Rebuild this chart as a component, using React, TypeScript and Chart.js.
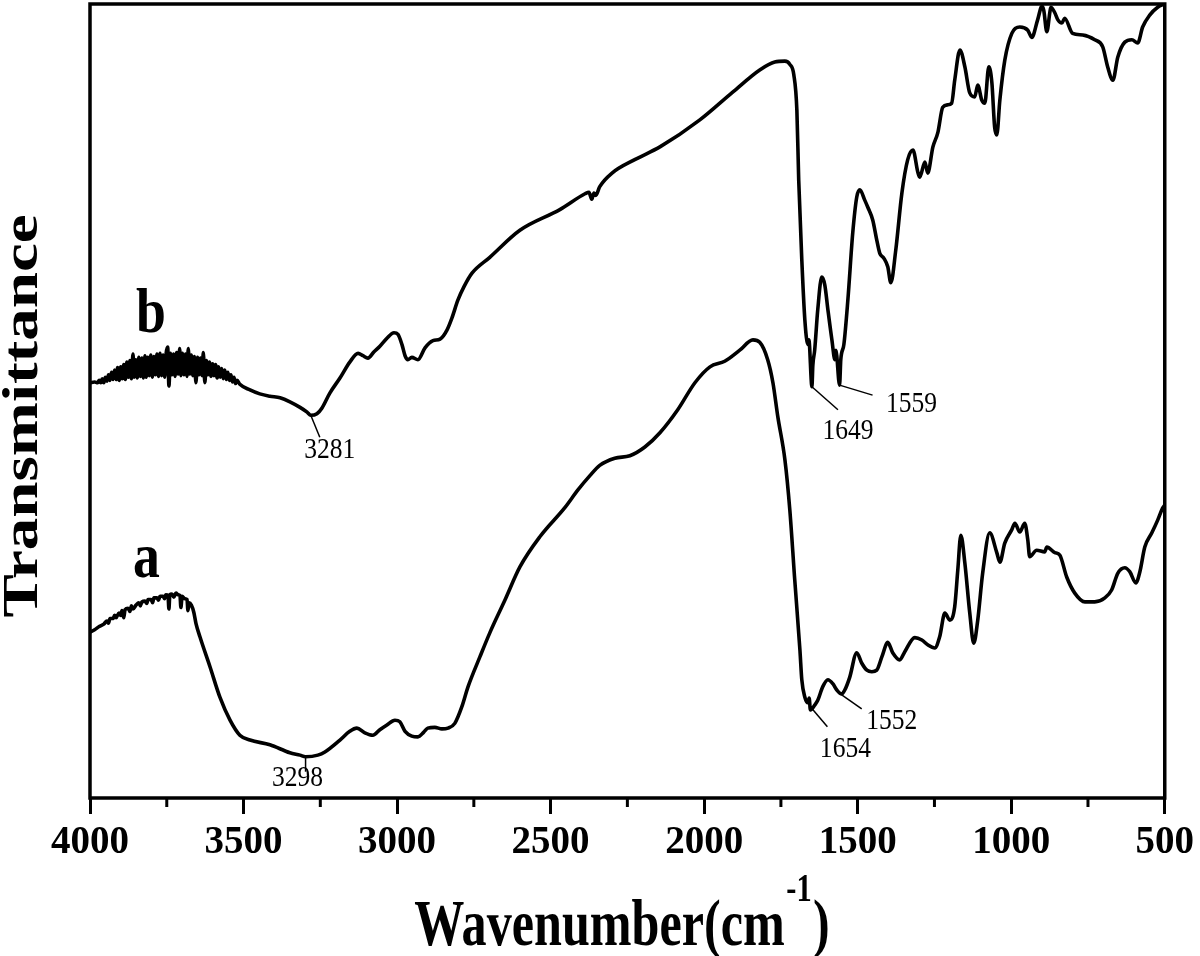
import React, { useEffect, useRef } from "react";
import { Chart, registerables } from "chart.js";

Chart.register(...registerables);

// ---------- data (wavenumber in cm-1, transmittance in arbitrary units 0-100) ----------
const bWavenumber = [
  4000, 3985, 3975, 3970, 3965, 3960, 3955, 3950, 3945, 3940, 3935, 3930, 3925, 3920, 3915, 3910,
  3905, 3900, 3895, 3890, 3885, 3880, 3875, 3870, 3865, 3860, 3856, 3851, 3846, 3841, 3836, 3831,
  3826, 3821, 3817, 3812, 3807, 3802, 3797, 3792, 3787, 3782, 3777, 3772, 3767, 3762, 3757, 3752,
  3747, 3743, 3738, 3733, 3728, 3723, 3718, 3713, 3708, 3704, 3699, 3694, 3689, 3684, 3680, 3675,
  3670, 3665, 3660, 3655, 3650, 3645, 3640, 3635, 3631, 3626, 3621, 3616, 3611, 3606, 3601, 3596,
  3591, 3586, 3581, 3576, 3571, 3566, 3561, 3556, 3551, 3546, 3541, 3536, 3531, 3526, 3521, 3512,
  3479, 3447, 3414, 3381, 3349, 3316, 3293, 3281, 3261, 3245, 3219,
  3186, 3154, 3127, 3111, 3095, 3075, 3056, 3033, 3010, 2997, 2984, 2974, 2965, 2952, 2932, 2909,
  2883, 2860, 2838, 2821, 2802, 2782, 2756, 2698, 2600, 2470, 2388, 2375, 2366, 2359, 2353, 2340,
  2300, 2226, 2144, 2014, 1907, 1819, 1770, 1737, 1721, 1708, 1698, 1692, 1682, 1672, 1662, 1659,
  1649, 1646, 1640, 1630, 1617, 1607, 1597, 1584, 1574, 1571, 1559, 1555, 1545, 1532, 1516, 1503,
  1493, 1477, 1467, 1451, 1438, 1428, 1415, 1402, 1392, 1376, 1356, 1337, 1320, 1304, 1298, 1281,
  1272, 1255, 1239, 1223, 1207, 1194, 1184, 1167, 1151, 1135, 1119, 1109, 1096, 1086, 1073, 1063,
  1054, 1047, 1037, 1021, 998, 972, 946, 933, 914, 900, 894, 884, 874, 871, 858, 848,
  835, 826, 800, 767, 728, 702, 686, 669, 653, 630, 607, 588, 572, 549, 523, 500,
];
const bTransmittance = [
  52.3, 52.4, 52.3, 52.6, 52.3, 52.8, 52.3, 53.0, 52.5, 53.3, 52.6, 53.6, 52.7, 53.9, 52.7, 54.2,
  52.6, 54.3, 52.8, 54.6, 52.7, 54.9, 53.0, 55.1, 52.8, 55.9, 53.0, 55.2, 52.9, 55.5, 53.1, 55.4,
  52.9, 55.7, 53.0, 55.5, 53.2, 55.8, 53.0, 55.6, 53.3, 55.9, 53.1, 56.0, 53.2, 55.8, 53.0, 56.0,
  56.8, 51.9, 56.0, 53.3, 55.9, 53.1, 56.1, 53.4, 56.6, 53.2, 56.0, 53.3, 55.9, 53.1, 56.6, 53.4,
  55.8, 53.2, 55.6, 52.3, 55.5, 53.3, 55.4, 53.2, 56.1, 52.3, 55.1, 53.3, 54.9, 53.1, 54.7, 53.2,
  54.6, 52.9, 54.3, 53.0, 54.1, 52.8, 53.9, 52.7, 53.6, 52.6, 53.3, 52.4, 53.0, 52.2, 52.6, 52.1,
  51.4, 50.9, 50.6, 50.4, 49.9, 49.2, 48.6, 48.2, 48.4, 49.1, 51.0,
  52.9, 54.9, 56.0, 55.7, 55.4, 56.2, 56.9, 57.9, 58.6, 58.4, 57.1, 55.7, 55.2, 55.5, 55.2, 56.7,
  57.6, 57.8, 58.9, 60.5, 62.7, 64.4, 66.1, 68.1, 71.5, 74.1, 76.1, 76.3, 75.4, 76.2, 75.9, 77.0,
  78.7, 80.4, 82.0, 85.4, 88.9, 91.7, 92.7, 92.8, 92.4, 91.1, 86.6, 77.8, 67.8, 60.2, 57.1, 57.7,
  51.8, 54.5, 56.4, 61.5, 65.6, 64.6, 61.5, 57.7, 55.2, 56.4, 52.0, 55.2, 57.1, 62.7, 71.2, 75.7,
  76.6, 75.3, 74.4, 72.8, 70.3, 68.6, 68.0, 66.9, 64.9, 69.0, 76.2, 80.4, 81.6, 78.8, 78.2, 80.1,
  78.7, 82.0, 83.8, 87.0, 87.3, 87.5, 90.4, 94.2, 92.1, 88.8, 88.3, 89.8, 87.9, 87.5, 92.1, 90.1,
  84.5, 83.5, 87.9, 92.9, 96.3, 97.1, 96.7, 95.8, 98.0, 99.7, 99.2, 96.5, 99.0, 99.6, 98.9, 98.0,
  97.6, 98.2, 96.3, 96.1, 95.5, 94.6, 92.1, 90.4, 93.3, 95.2, 95.5, 95.1, 97.1, 98.6, 99.6, 100.0,
];

const aWavenumber = [
  4000, 3985, 3970, 3955, 3945, 3940, 3935, 3925, 3920, 3915, 3906, 3900, 3896, 3890, 3886, 3876,
  3870, 3865, 3860, 3850, 3841, 3836, 3831, 3821, 3815, 3811, 3801, 3796, 3792, 3782, 3777, 3772,
  3762, 3757, 3753, 3746, 3743, 3740, 3733, 3727, 3720, 3713, 3707, 3704, 3700, 3691, 3684, 3681,
  3677, 3670, 3662, 3655, 3642, 3609, 3577, 3544, 3512, 3479, 3414, 3349,
  3316, 3298, 3258, 3235, 3186, 3154, 3131, 3105, 3079, 3056, 3033, 3007, 2991, 2974, 2952, 2932,
  2913, 2900, 2877, 2854, 2834, 2812, 2789, 2769, 2730, 2698, 2649, 2600, 2535, 2453, 2411, 2372,
  2340, 2291, 2242, 2193, 2144, 2086, 2030, 1981, 1933, 1884, 1841, 1819, 1793, 1776, 1760, 1737,
  1721, 1705, 1688, 1682, 1672, 1662, 1658, 1654, 1640, 1630, 1614, 1597, 1581, 1568, 1552, 1542,
  1526, 1503, 1487, 1470, 1454, 1438, 1421, 1402, 1386, 1363, 1347, 1314, 1291, 1272, 1249, 1233,
  1216, 1200, 1184, 1174, 1164, 1151, 1135, 1122, 1109, 1093, 1070, 1047, 1037, 1021, 998, 988,
  972, 956, 946, 940, 917, 891, 884, 858, 842, 819, 793, 760, 728, 695, 673, 653,
  630, 614, 594, 581, 565, 542, 523, 507, 500,
];
const aTransmittance = [
  20.9, 21.2, 21.6, 21.9, 22.3, 22.0, 22.6, 22.6, 23.0, 22.7, 23.3, 23.0, 23.6, 22.7, 23.7, 23.9,
  23.5, 24.2, 23.8, 24.3, 24.6, 24.2, 24.7, 24.8, 24.5, 25.0, 25.0, 24.6, 25.2, 25.2, 24.9, 25.4,
  25.4, 25.1, 25.6, 25.5, 23.8, 25.6, 25.7, 25.3, 25.8, 25.6, 25.5, 24.0, 25.4, 25.1, 25.0, 23.6,
  24.6, 24.3, 23.4, 22.0, 20.3, 16.5, 12.7, 9.8, 7.9, 7.3, 6.7, 5.7,
  5.4, 5.2, 5.4, 5.8, 7.3, 8.4, 8.8, 8.2, 7.9, 8.6, 9.2, 9.8, 9.6, 8.4, 7.8, 7.7,
  8.3, 8.8, 8.9, 8.7, 8.8, 9.4, 11.5, 14.0, 17.8, 20.8, 24.9, 29.1, 32.9, 36.6, 38.8, 40.6,
  41.9, 42.8, 43.1, 44.2, 46.0, 48.9, 52.3, 54.3, 55.0, 56.4, 57.7, 57.4, 55.2, 52.3, 48.0, 42.6,
  36.3, 27.5, 18.6, 14.9, 12.7, 12.0, 12.6, 11.1, 11.7, 12.3, 14.0, 14.9, 14.4, 13.6, 13.1, 13.6,
  15.2, 18.3, 17.0, 16.1, 15.9, 16.1, 17.8, 19.6, 18.3, 17.4, 18.4, 20.2, 19.9, 19.3, 18.9, 20.3,
  23.3, 22.4, 24.1, 28.7, 33.1, 29.6, 23.3, 19.5, 22.4, 28.3, 33.4, 30.9, 29.7, 32.1, 33.8, 34.6,
  33.5, 34.6, 32.5, 30.4, 31.2, 31.0, 31.6, 30.9, 30.6, 27.8, 25.8, 24.7, 24.7, 25.2, 26.2, 28.3,
  29.0, 28.5, 27.1, 28.5, 31.6, 33.4, 35.0, 36.5, 36.9,
];

const xMajorTicks = [4000, 3500, 3000, 2500, 2000, 1500, 1000, 500];
const xMinorTicks = [3750, 3250, 2750, 2250, 1750, 1250, 750];

const peakLabels = ["3281", "3298", "1649", "1559", "1654", "1552"];
const peakWavenumbers = [3281, 3298, 1649, 1559, 1654, 1552];
const peakAnchorValues = [48.2, 5.2, 51.8, 52.0, 11.5, 13.0];

const seriesNames = ["b", "a"];

// ---------- layout / style (pixels) ----------
const leaderEnds = [[9, 22], [0, 15], [26, 23], [33, 10], [17, 20], [20, 14]];
const labelCenters = [[19, 35], [-8, 22], [36, 45], [72, 19], [35, 43], [50, 27]];
const SERIF = '"Liberation Serif", "Times New Roman", serif';

const decorPlugin = {
  id: "decor",
  afterDraw(chart: any) {
    const { ctx, chartArea } = chart;
    const { left, top, right, bottom } = chartArea;
    const xs = chart.scales.x;
    const ys = chart.scales.y;
    ctx.save();
    ctx.fillStyle = "#000";
    ctx.strokeStyle = "#000";

    // frame
    ctx.lineWidth = 3.5;
    ctx.strokeRect(left, top, right - left, bottom - top);

    // minor ticks
    ctx.lineWidth = 3;
    for (const v of xMinorTicks) {
      const px = xs.getPixelForValue(v);
      ctx.beginPath();
      ctx.moveTo(px, bottom);
      ctx.lineTo(px, bottom + 9);
      ctx.stroke();
    }

    // peak annotations
    ctx.lineWidth = 1.5;
    for (let i = 0; i < peakLabels.length; i++) {
      const px = xs.getPixelForValue(peakWavenumbers[i]);
      const py = ys.getPixelForValue(peakAnchorValues[i]);
      ctx.beginPath();
      ctx.moveTo(px, py);
      ctx.lineTo(px + leaderEnds[i][0], py + leaderEnds[i][1]);
      ctx.stroke();
      ctx.save();
      ctx.translate(px + labelCenters[i][0], py + labelCenters[i][1]);
      ctx.scale(0.88, 1);
      ctx.font = `29px ${SERIF}`;
      ctx.textAlign = "center";
      ctx.textBaseline = "middle";
      ctx.fillText(peakLabels[i], 0, 0);
      ctx.restore();
    }

    // curve labels a / b
    const curveLabelPos = [[136, 332], [133, 577]];
    for (let i = 0; i < seriesNames.length; i++) {
      ctx.save();
      ctx.translate(curveLabelPos[i][0], curveLabelPos[i][1]);
      ctx.scale(0.84, 1);
      ctx.font = `bold 64px ${SERIF}`;
      ctx.textAlign = "left";
      ctx.textBaseline = "alphabetic";
      ctx.fillText(seriesNames[i], 0, 0);
      ctx.restore();
    }

    // y title
    ctx.save();
    ctx.translate(37, 416);
    ctx.rotate(-Math.PI / 2);
    ctx.scale(1, 0.78);
    ctx.font = `bold 65px ${SERIF}`;
    ctx.textAlign = "center";
    ctx.textBaseline = "alphabetic";
    ctx.fillText("Transmittance", 0, 0);
    ctx.restore();

    // x title with superscript
    const sx = 0.76;
    const mainFont = `bold 66px ${SERIF}`;
    const supFont = `bold 40px ${SERIF}`;
    ctx.font = mainFont;
    const w1 = ctx.measureText("Wavenumber(cm").width;
    const w3 = ctx.measureText(")").width;
    ctx.font = supFont;
    const w2 = ctx.measureText("-1").width;
    const total = (w1 + 2 + w2 + 2 + w3) * sx;
    ctx.save();
    ctx.translate(622 - total / 2, 945);
    ctx.scale(sx, 1);
    ctx.textAlign = "left";
    ctx.textBaseline = "alphabetic";
    ctx.font = mainFont;
    ctx.fillText("Wavenumber(cm", 0, 0);
    ctx.font = supFont;
    ctx.fillText("-1", w1 + 2, -44);
    ctx.font = mainFont;
    ctx.fillText(")", w1 + 4 + w2, 0);
    ctx.restore();

    ctx.restore();
  },
};

export default function App() {
  const canvasRef = useRef<HTMLCanvasElement | null>(null);

  useEffect(() => {
    const canvas = canvasRef.current;
    if (!canvas) return;
    const bData = bWavenumber.map((x, i) => ({ x, y: bTransmittance[i] }));
    const aData = aWavenumber.map((x, i) => ({ x, y: aTransmittance[i] }));
    const lineStyle = {
      borderColor: "#000",
      borderWidth: 3.6,
      pointRadius: 0,
      fill: false,
      cubicInterpolationMode: "monotone" as const,
      borderJoinStyle: "round" as const,
      borderCapStyle: "round" as const,
    };
    const chart = new Chart(canvas, {
      type: "line",
      data: {
        datasets: [
          { label: seriesNames[0], data: bData, ...lineStyle },
          { label: seriesNames[1], data: aData, ...lineStyle },
        ],
      },
      options: {
        responsive: false,
        animation: false,
        devicePixelRatio: 1,
        layout: { padding: { left: 0, top: 4, right: 35, bottom: 0 } },
        plugins: { legend: { display: false }, tooltip: { enabled: false } },
        scales: {
          x: {
            type: "linear",
            reverse: true,
            min: 500,
            max: 4000,
            afterBuildTicks: (scale: any) => {
              scale.ticks = xMajorTicks.map((v) => ({ value: v }));
            },
            afterFit: (scale: any) => {
              scale.height = 158;
            },
            border: { display: false },
            grid: {
              display: true,
              drawOnChartArea: false,
              drawTicks: true,
              tickLength: 16,
              tickWidth: 3,
              tickColor: "#000",
            },
            ticks: {
              color: "#000",
              padding: 6,
              maxRotation: 0,
              autoSkip: false,
              font: { family: SERIF, size: 39, weight: "bold" },
              callback: (v: any) => String(v),
            },
          },
          y: {
            type: "linear",
            min: 0,
            max: 100,
            afterFit: (scale: any) => {
              scale.width = 90;
            },
            border: { display: false },
            grid: { display: false },
            ticks: { display: false },
          },
        },
      },
      plugins: [decorPlugin],
    });
    return () => chart.destroy();
  }, []);

  return (
    <div style={{ position: "absolute", left: 0, top: 0, width: 1200, height: 956, background: "#fff" }}>
      <canvas ref={canvasRef} width={1200} height={956} style={{ display: "block" }} />
    </div>
  );
}
